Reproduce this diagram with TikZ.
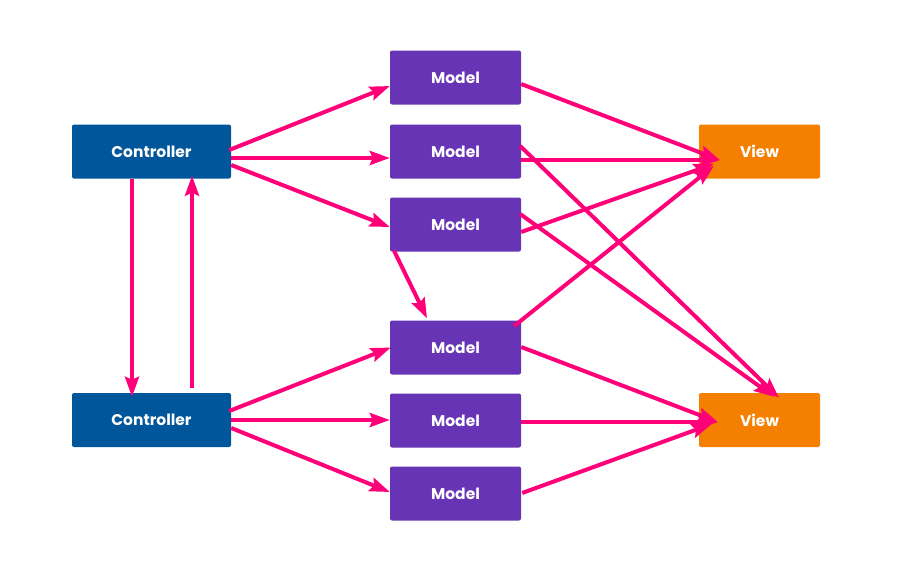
\documentclass[tikz,border=0pt]{standalone}
\usepackage{fontspec}
\setmainfont{Poppins}
\usetikzlibrary{arrows.meta,calc}
\definecolor{ctrlblue}{RGB}{0,86,155}
\definecolor{modelpurple}{RGB}{102,52,180}
\definecolor{vieworange}{RGB}{245,128,0}
\definecolor{arrowpink}{RGB}{255,0,120}
\begin{document}
\begin{tikzpicture}[x=1pt,y=-1pt,
  box/.style={rounded corners=2pt, minimum height=54pt, inner sep=0pt, text=white,
    font=\fontsize{15.5}{18}\selectfont\bfseries},
  ctrl/.style={box, fill=ctrlblue, minimum width=159pt},
  model/.style={box, fill=modelpurple, minimum width=131pt},
  viewbox/.style={box, fill=vieworange, minimum width=121pt},
  link/.style={draw=arrowpink, line width=4pt, -{Stealth[length=20pt,width=14pt,inset=3pt]}}]
\useasboundingbox (0,0) rectangle (914,562);
\node[ctrl] (c1) at (151.5,151.5) {Controller};
\node[ctrl] (c2) at (151.5,420) {Controller};
\node[model] (m1) at (455.5,77.5) {Model};
\node[model] (m2) at (455.5,151.5) {Model};
\node[model] (m3) at (455.5,224.5) {Model};
\node[model] (m4) at (455.5,347.5) {Model};
\node[model] (m5) at (455.5,420.5) {Model};
\node[model] (m6) at (455.5,493.5) {Model};
\node[viewbox] (v1) at (759.5,151.5) {View};
\node[viewbox] (v2) at (759.5,420) {View};
% controller to models
\draw[link] ($(c1.east)+(-2,-1.5)$) -- ($(m1.west)+(0,8.5)$);
\draw[link] ($(c1.east)+(0,6.5)$) -- ($(m2.west)+(0,6.5)$);
\draw[link] ($(c1.east)+(0,13.5)$) -- ($(m3.west)+(0,2.5)$);
\draw[link] ($(c2.east)+(-2,-9)$) -- ($(m4.west)+(1,0)$);
\draw[link] ($(c2.east)+(0,0)$) -- ($(m5.west)+(0,-0.5)$);
\draw[link] ($(c2.east)+(0,8)$) -- ($(m6.west)+(0,-1.5)$);
% controller to controller
\draw[link] ($(c1.south)+(-19.5,0)$) -- ($(c2.north)+(-19.5,4)$);
\draw[link] ($(c2.north)+(40.5,-5)$) -- ($(c1.south)+(40.5,-3)$);
% model to model
\draw[link] ($(m3.south)+(-61.5,-1)$) -- ($(m4.north)+(-28.5,-2)$);
% models to views
\draw[link] ($(m1.east)+(0,6.5)$) -- ($(v1.west)+(21,8.5)$);
\draw[link] ($(m2.east)+(0,8.5)$) -- ($(v1.west)+(21,8.5)$);
\draw[link] ($(m2.east)+(-1,-5.5)$) -- ($(v2.north)+(19.5,5)$);
\draw[link] ($(m3.east)+(0,7.5)$) -- ($(v1.west)+(15,12.5)$);
\draw[link] ($(m3.east)+(-1,-10.5)$) -- ($(v2.north)+(14.5,4)$);
\draw[link] ($(m4.east)+(-7,-21.5)$) -- ($(v1.west)+(15,14.5)$);
\draw[link] ($(m4.east)+(0,-0.5)$) -- ($(v2.west)+(19,2)$);
\draw[link] ($(m5.east)+(0,1.5)$) -- ($(v2.west)+(19,2)$);
\draw[link] ($(m6.east)+(1,-0.5)$) -- ($(v2.west)+(13,4)$);
\end{tikzpicture}
\end{document}
